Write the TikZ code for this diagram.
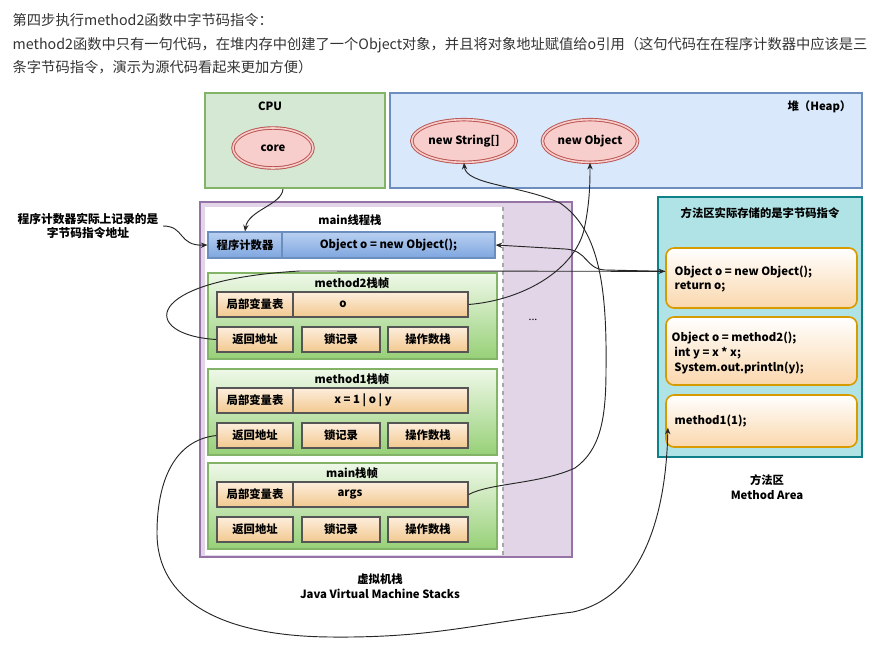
\documentclass[tikz,border=0pt]{standalone}
\usepackage{fontspec}
\setmainfont{Noto Sans CJK SC}
\usepackage{tikz}
\usetikzlibrary{fit, positioning, arrows.meta, shapes.geometric}

\definecolor{headgray}{HTML}{333333}
\definecolor{cpufill}{HTML}{D5E8D4}
\definecolor{cpugreen}{HTML}{82B366}
\definecolor{heapfill}{HTML}{DAE8FC}
\definecolor{heapblue}{HTML}{6C8EBF}
\definecolor{stackfill}{HTML}{E1D5E7}
\definecolor{stackpurple}{HTML}{9673A6}
\definecolor{areafill}{HTML}{B0E3E6}
\definecolor{areateal}{HTML}{0E8088}
\definecolor{blobred}{HTML}{B85450}
\definecolor{blobpink}{HTML}{F8CECC}
\definecolor{frametop}{HTML}{EEF8E8}
\definecolor{framebot}{HTML}{97D077}
\definecolor{cellgray}{HTML}{555555}
\definecolor{celltop}{HTML}{FDEEDC}
\definecolor{cellbot}{HTML}{F2C88F}
\definecolor{pctop}{HTML}{B9D0F0}
\definecolor{pcbot}{HTML}{7EA6E0}
\definecolor{codeorange}{HTML}{D79B00}
\definecolor{codefill}{HTML}{FAD7AC}

\begin{document}
\begin{tikzpicture}[x=0.75pt, y=-0.75pt,
  font=\bfseries\fontsize{8.5}{11}\selectfont,
  region/.style={draw=#1, line width=1.4pt, inner sep=0pt},
  blob/.style={ellipse, draw=blobred, double=blobpink, double distance=1.2pt, fill=blobpink, line width=0.7pt, inner sep=1pt},
  framebox/.style={draw=cpugreen, line width=1pt, top color=frametop, bottom color=framebot, inner sep=0pt},
  cellbox/.style={draw=cellgray, line width=1pt, top color=celltop, bottom color=cellbot, inner sep=0pt},
  pcbox/.style={draw=heapblue, line width=0.8pt, top color=pctop, bottom color=pcbot, inner sep=0pt},
  codebox/.style={draw=codeorange, line width=1.2pt, rounded corners=6pt, top color=white, bottom color=codefill, inner sep=0pt},
  link/.style={draw=black!85, line width=0.7pt},
  pointer/.style={-{Stealth[length=5pt,width=4pt]}}
]
\useasboundingbox (0,0) rectangle (891,648);

% header text
\begin{scope}[every node/.style={anchor=west, text=headgray, font=\mdseries\fontsize{10.7}{13}\selectfont}]
\node (head1) at (8,20) {第四步执行method2函数中字节码指令：};
\node (head2) at (8,45) {method2函数中只有一句代码，在堆内存中创建了一个Object对象，并且将对象地址赋值给o引用（这句代码在在程序计数器中应该是三};
\node (head3) at (8,67) {条字节码指令，演示为源代码看起来更加方便）};
\end{scope}

% CPU and heap
\node[region=cpugreen, fill=cpufill, fit={(205,93) (385,188)}] (cpu) {};
\node (cputitle) at (270,106) {CPU};
\node[blob, minimum width=60pt, minimum height=30pt] (core) at (273,148) {core};

\node[region=heapblue, fill=heapfill, fit={(390,93) (862,188)}] (heap) {};
\node[anchor=east] (heaptitle) at (856,107) {堆（Heap）};
\node[blob, minimum width=64pt, minimum height=32pt] (nstr) at (464,141) {new String[]};
\node[blob, minimum width=63pt, minimum height=32pt] (nobj) at (590,141) {new Object};

% virtual machine stacks
\node[region=stackpurple, fill=stackfill, fit={(200,202) (572,557)}] (jvms) {};
\fill[white] (205,207) rectangle (503,555);
\draw[gray!70, dashed, line width=1pt] (503,207) -- (503,555);
\node[font=\mdseries\fontsize{8}{10}\selectfont] (dots) at (533,320) {...};
\node (threadtitle) at (350,220) {main线程栈};
\node[pcbox, fit={(208,232) (282,258)}, label=center:程序计数器] (pclabel) {};
\node[pcbox, fit={(282,232) (495,258)}, label=center:{Object o = new Object();}] (pccode) {};

\foreach \fr/\ftitle/\fy/\fvx/\fvars in {m2/method2栈帧/273/343/o, m1/method1栈帧/369/363/{x = 1 | o | y}, mn/main栈帧/463/350/args} {
  \node[framebox, fit={(208,\fy) (497,\fy+86)}] (\fr) {};
  \node (\fr-title) at (352,\fy+10) {\ftitle};
  \node[cellbox, fit={(217,\fy+19) (293,\fy+44)}, label=center:局部变量表] (\fr-lvt) {};
  \node[cellbox, fit={(293,\fy+19) (468,\fy+44)}] (\fr-var) {};
  \node (\fr-val) at (\fvx,\fy+31.5) {\fvars};
  \node[cellbox, fit={(217,\fy+54) (293,\fy+79)}, label=center:返回地址] (\fr-ret) {};
  \node[cellbox, fit={(302,\fy+54) (380,\fy+79)}, label=center:锁记录] (\fr-lock) {};
  \node[cellbox, fit={(388,\fy+54) (468,\fy+79)}, label=center:操作数栈] (\fr-ops) {};
}

\node[align=center, font=\bfseries\fontsize{8.5}{11}\selectfont] (jvmslabel) at (380,586) {虚拟机栈\\Java Virtual Machine Stacks};

% method area
\node[region=areateal, fill=areafill, fit={(658,197) (862,457)}] (marea) {};
\node (mareatitle) at (760,213) {方法区实际存储的是字节码指令};
\node[codebox, fit={(666,248) (857,308)}] (ma1) {};
\node[codebox, fit={(666,317) (857,385)}] (ma2) {};
\node[codebox, fit={(666,395) (857,447)}] (ma3) {};
\node[anchor=west, align=left] (ma1code) at (670,279) {Object o = new Object();\\return o;};
\node[anchor=west, align=left] (ma2code) at (667,353) {Object o = method2();\\\hspace*{2pt}int y = x * x;\\\hspace*{2pt}System.out.println(y);};
\node[anchor=west] (ma3code) at (670,421) {method1(1);};
\node[align=center, font=\bfseries\fontsize{8.5}{11}\selectfont] (marealabel) at (767,487) {方法区\\Method Area};

% note
\node[align=center, font=\bfseries\fontsize{8.8}{11}\selectfont] (note) at (88,226) {程序计数器实际上记录的是\\字节码指令地址};

% connectors
\draw[link, pointer] ([xshift=-9pt]cpu.south) .. controls (282,205) and (248,210) .. (pclabel.north);
\draw[link, pointer] (note.east) .. controls (185,226) and (178,246) .. (pclabel.west);
\draw[link, pointer] (m2-var.east) .. controls (525,300) and (578,268) .. (585,225) .. controls (590,200) and (590,180) .. (nobj.south);
\draw[link, pointer] (mn-var.east) .. controls (490,483) and (540,484) .. (575,468) .. controls (600,450) and (606,420) .. (606,370) .. controls (607,290) and (600,230) .. (560,203) .. controls (520,185) and (466,185) .. (nstr.south);
\draw[link, pointer] ([yshift=5pt]ma1.west) -- (605,270) .. controls (585,269) and (588,250) .. (565,249) -- (pccode.east);
\draw[link, pointer] (m2-ret.west) .. controls (140,335) and (140,280) .. (300,271) -- ([yshift=5pt]ma1.west);
\draw[link, pointer] (m1-ret.west) .. controls (175,440) and (157,480) .. (157,533) .. controls (157,600) and (220,636) .. (330,637) .. controls (430,638) and (470,625) .. (573,612) .. controls (640,598) and (666,520) .. ([xshift=2pt,yshift=-5pt]ma3.west);
\end{tikzpicture}
\end{document}
